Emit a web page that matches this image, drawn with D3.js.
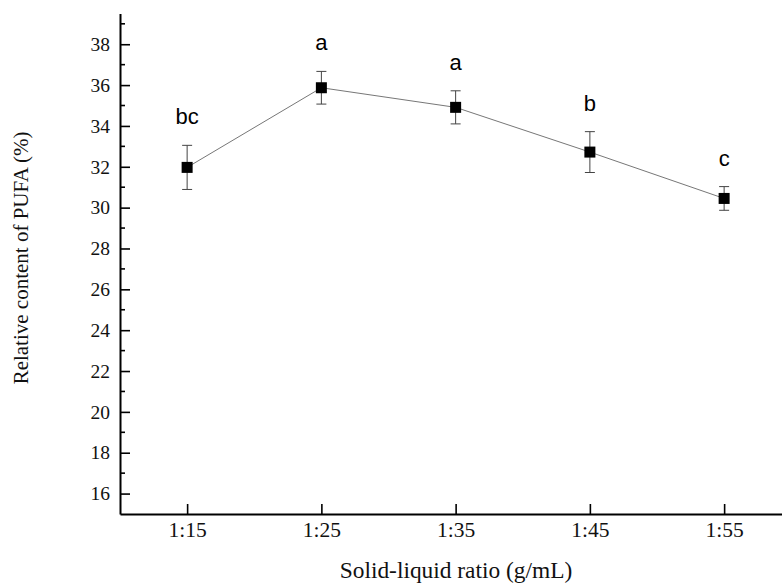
<!DOCTYPE html>
<html>
<head>
<meta charset="utf-8">
<script src="https://cdn.jsdelivr.net/npm/d3@7"></script>
<style>
  body { margin: 0; background: #fff; }
  svg { display: block; }
</style>
</head>
<body>
<svg id="chart" width="782" height="588"></svg>
<script>
// data
const ratios = ['1:15', '1:25', '1:35', '1:45', '1:55'];
const means = [31.97, 35.87, 34.91, 32.72, 30.45];
const errors = [1.08, 0.80, 0.81, 1.00, 0.58];
const letters = ['bc', 'a', 'a', 'b', 'c'];
const yTicks = [16, 18, 20, 22, 24, 26, 28, 30, 32, 34, 36, 38];

const svg = d3.select('#chart');

const plotLeft = 120, plotBottom = 514, plotTop = 13.6;

let x = d3.scaleLinear().domain([0.5, 5.5]).range([plotLeft, 791.25]);
let y = d3.scaleLinear().domain([15, 39.5]).range([plotBottom, plotTop]);

let points = ratios.map((r, i) => ({ r: r, i: i + 1, m: means[i], e: errors[i], l: letters[i] }));

// y axis, ticks pointing inward
let yAxis = d3.axisLeft(y).tickValues(yTicks).tickSizeInner(-10).tickSizeOuter(0).tickPadding(10);
let gy = svg.append('g').attr('transform', 'translate(' + plotLeft + ',0)').call(yAxis);
gy.select('.domain').attr('stroke-width', 2);
gy.selectAll('.tick line').attr('stroke-width', 1.6);
gy.selectAll('.tick text')
  .attr('font-family', '"Liberation Serif", "Times New Roman", serif')
  .attr('font-size', 19.5).attr('fill', '#111');

// minor ticks at odd values
svg.append('g').selectAll('line')
  .data(d3.range(17, 40, 2))
  .enter().append('line')
  .attr('x1', plotLeft).attr('x2', plotLeft + 5)
  .attr('y1', d => y(d)).attr('y2', d => y(d))
  .attr('stroke', '#000').attr('stroke-width', 1.6);

// x axis
let xAxis = d3.axisBottom(x).tickValues([1, 2, 3, 4, 5])
  .tickFormat(d => ratios[d - 1]).tickSizeInner(-10).tickSizeOuter(0).tickPadding(8);
let gx = svg.append('g').attr('transform', 'translate(0,' + plotBottom + ')').call(xAxis);
gx.select('.domain').attr('stroke-width', 2);
gx.selectAll('.tick line').attr('stroke-width', 1.6);
gx.selectAll('.tick text')
  .attr('font-family', '"Liberation Serif", "Times New Roman", serif')
  .attr('font-size', 21.5).attr('fill', '#111');

// axis titles
svg.append('text')
  .attr('x', 456).attr('y', 578)
  .attr('text-anchor', 'middle')
  .attr('font-family', '"Liberation Serif", "Times New Roman", serif')
  .attr('font-size', 23.4).attr('fill', '#111')
  .text('Solid-liquid ratio (g/mL)');

svg.append('text')
  .attr('transform', 'translate(28,258) rotate(-90)')
  .attr('text-anchor', 'middle')
  .attr('font-family', '"Liberation Serif", "Times New Roman", serif')
  .attr('font-size', 21).attr('fill', '#111')
  .text('Relative content of PUFA (%)');

// connecting line
svg.append('path')
  .datum(points)
  .attr('fill', 'none')
  .attr('stroke', '#777')
  .attr('stroke-width', 1)
  .attr('d', d3.line().x(d => x(d.i)).y(d => y(d.m)));

// error bars
let eb = svg.append('g').attr('stroke', '#444').attr('stroke-width', 1);
eb.selectAll('.stem').data(points).enter().append('line')
  .attr('x1', d => x(d.i)).attr('x2', d => x(d.i))
  .attr('y1', d => y(d.m + d.e)).attr('y2', d => y(d.m - d.e));
eb.selectAll('.capTop').data(points).enter().append('line')
  .attr('x1', d => x(d.i) - 5).attr('x2', d => x(d.i) + 5)
  .attr('y1', d => y(d.m + d.e)).attr('y2', d => y(d.m + d.e));
eb.selectAll('.capBot').data(points).enter().append('line')
  .attr('x1', d => x(d.i) - 5).attr('x2', d => x(d.i) + 5)
  .attr('y1', d => y(d.m - d.e)).attr('y2', d => y(d.m - d.e));

// square markers
svg.append('g').selectAll('rect').data(points).enter().append('rect')
  .attr('x', d => x(d.i) - 5.5).attr('y', d => y(d.m) - 5.5)
  .attr('width', 11).attr('height', 11)
  .attr('fill', '#000');

// significance letters
svg.append('g').selectAll('text').data(points).enter().append('text')
  .attr('x', d => x(d.i)).attr('y', d => y(d.m + d.e) - 21)
  .attr('text-anchor', 'middle')
  .attr('font-family', '"Liberation Sans", Arial, sans-serif')
  .attr('font-size', 22).attr('fill', '#000')
  .text(d => d.l);
</script>
</body>
</html>
